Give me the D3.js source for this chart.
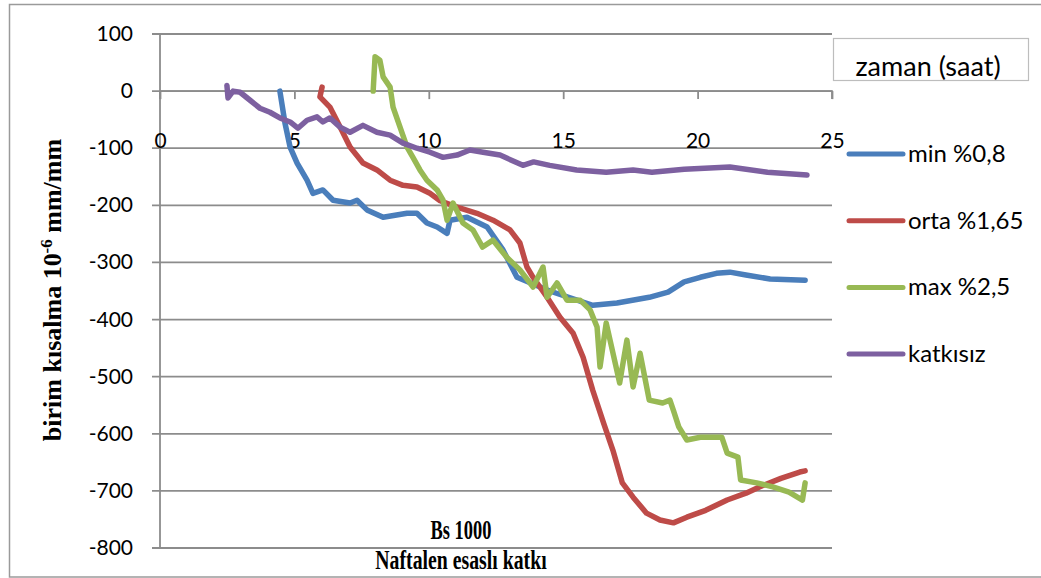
<!DOCTYPE html>
<html>
<head>
<meta charset="utf-8">
<script src="https://cdn.jsdelivr.net/npm/d3@7"></script>
<style>
  body { margin: 0; background: #fff; }
  svg { display: block; }
</style>
</head>
<body>
<div id="chart"></div>
<script>
// data: [time (saat), shrinkage]
var minSeries = [[4.46,0],[4.65,-56],[4.84,-98],[5.10,-126],[5.47,-156],[5.69,-179],[6.06,-173],[6.44,-191],[7.07,-196],[7.33,-191],[7.70,-208],[8.30,-221],[9.19,-214],[9.56,-214],[9.93,-231],[10.31,-238],[10.68,-249],[10.79,-226],[11.42,-221],[12.17,-238],[12.76,-278],[13.28,-326],[14.5,-350],[16.1,-375],[17.0,-371],[18.2,-361],[18.9,-352],[19.5,-334],[20.1,-326],[20.7,-319],[21.2,-317],[21.8,-322],[22.7,-329],[24.0,-331]];

var ortaSeries = [[6.03,7],[5.95,-10],[6.32,-28],[6.70,-63],[7.07,-98],[7.55,-126],[8.07,-138],[8.56,-156],[9.04,-165],[9.56,-168],[10.04,-179],[10.42,-192],[11.05,-203],[11.79,-214],[12.39,-226],[13.02,-243],[13.39,-266],[13.65,-308],[13.88,-326],[14.4,-361],[14.88,-396],[15.37,-424],[15.74,-466],[16.1,-524],[16.5,-581],[16.85,-629],[17.2,-686],[17.6,-711],[18.1,-739],[18.6,-751],[19.1,-756],[19.6,-746],[20.3,-734],[21.1,-716],[21.8,-704],[22.3,-693],[23.1,-678],[23.8,-667],[24.0,-665]];

var maxSeries = [[7.93,0],[8.0,60],[8.18,54],[8.3,25],[8.56,7],[8.67,-28],[8.93,-63],[9.19,-98],[9.41,-116],[9.67,-138],[9.93,-156],[10.31,-173],[10.53,-191],[10.68,-226],[10.9,-196],[11.27,-231],[11.64,-243],[12.0,-273],[12.39,-261],[12.9,-291],[13.39,-313],[13.88,-343],[14.25,-308],[14.4,-361],[14.77,-336],[15.14,-366],[15.63,-366],[16.0,-383],[16.26,-413],[16.37,-483],[16.6,-406],[17.1,-511],[17.37,-436],[17.6,-518],[17.86,-459],[18.2,-541],[18.7,-546],[18.97,-541],[19.1,-559],[19.3,-588],[19.6,-611],[20.1,-606],[20.9,-606],[21.1,-634],[21.5,-641],[21.6,-681],[22.2,-686],[22.8,-693],[23.4,-702],[23.9,-716],[24.0,-686]];

var katkisizSeries = [[2.49,10],[2.53,-12],[2.72,0],[2.98,-2],[3.35,-16],[3.72,-30],[4.09,-37],[4.46,-47],[4.84,-54],[5.13,-65],[5.47,-51],[5.84,-45],[6.06,-54],[6.32,-47],[6.7,-63],[7.07,-72],[7.55,-60],[8.07,-72],[8.56,-77],[9.04,-91],[9.56,-100],[10.04,-107],[10.53,-116],[11.05,-112],[11.53,-103],[12.02,-107],[12.65,-112],[13.5,-130],[13.9,-124],[14.5,-130],[15.5,-138],[16.6,-142],[17.6,-138],[18.3,-142],[19.5,-137],[21.2,-133],[22.6,-142],[24.07,-147]];

var seriesNames = ["min %0,8", "orta %1,65", "max %2,5", "katkısız"];
var seriesColors = ["#4a7ebb", "#be4b48", "#98b954", "#7d60a0"];
var xTicks = [0, 5, 10, 15, 20, 25];
var yTicks = [100, 0, -100, -200, -300, -400, -500, -600, -700, -800];

var allSeries = [minSeries, ortaSeries, maxSeries, katkisizSeries];

var width = 1041, height = 578;
var plot = {left: 160, right: 832, top: 34, bottom: 548};
var sans = "Lato, 'Open Sans', sans-serif";
var serif = "'Liberation Serif', 'Times New Roman', serif";

var svg = d3.select("#chart").append("svg")
  .attr("width", width)
  .attr("height", height);

// outer border
svg.append("rect")
  .attr("x", 9.5).attr("y", 4.5)
  .attr("width", 1040).attr("height", 572.5)
  .attr("fill", "none")
  .attr("stroke", "#9a9a9a")
  .attr("stroke-width", 1.5);

var x = d3.scaleLinear().domain([0, 25]).range([plot.left, plot.right]);
var y = d3.scaleLinear().domain([-800, 100]).range([plot.bottom, plot.top]);

// gridlines
svg.append("g").selectAll("line")
  .data(yTicks)
  .enter().append("line")
  .attr("x1", plot.left - 8)
  .attr("x2", plot.right)
  .attr("y1", function(d) { return y(d); })
  .attr("y2", function(d) { return y(d); })
  .attr("stroke", "#8c8c8c")
  .attr("stroke-width", 1.8);

// y axis line
svg.append("line")
  .attr("x1", plot.left).attr("x2", plot.left)
  .attr("y1", plot.top).attr("y2", plot.bottom)
  .attr("stroke", "#8c8c8c").attr("stroke-width", 1.8);

// y tick labels
svg.append("g").selectAll("text")
  .data(yTicks)
  .enter().append("text")
  .attr("x", 133)
  .attr("y", function(d) { return y(d) + 7; })
  .attr("text-anchor", "end")
  .style("font-family", sans)
  .style("font-size", "21px")
  .attr("fill", "#000")
  .text(function(d) { return d; });

// x axis at y = 0, ticks pointing down
var xAxis = svg.append("g")
  .attr("transform", "translate(0," + y(0) + ")")
  .call(d3.axisBottom(x).tickValues(xTicks).tickSize(8).tickPadding(34));
xAxis.select(".domain").attr("stroke", "#8c8c8c").attr("stroke-width", 1.8)
  .attr("d", "M" + plot.left + ",8V0H" + plot.right + "V8");
xAxis.selectAll(".tick line").attr("stroke", "#8c8c8c").attr("stroke-width", 1.8);
xAxis.selectAll(".tick text")
  .style("font-family", sans)
  .style("font-size", "21px")
  .attr("fill", "#000");

// the lines
var line = d3.line()
  .x(function(d) { return x(d[0]); })
  .y(function(d) { return y(d[1]); });

svg.append("g").selectAll("path")
  .data(allSeries)
  .enter().append("path")
  .attr("d", line)
  .attr("fill", "none")
  .attr("stroke", function(d, i) { return seriesColors[i]; })
  .attr("stroke-width", 5.5)
  .attr("stroke-linejoin", "round")
  .attr("stroke-linecap", "round");

// x axis title box
svg.append("rect")
  .attr("x", 833.5).attr("y", 38.5)
  .attr("width", 195).attr("height", 42)
  .attr("fill", "#fff")
  .attr("stroke", "#bdbdbd")
  .attr("stroke-width", 1.2);
svg.append("text")
  .attr("x", 928).attr("y", 76)
  .attr("text-anchor", "middle")
  .style("font-family", sans)
  .style("font-size", "27px")
  .text("zaman (saat)");

// legend
var legend = svg.append("g").selectAll("g")
  .data(seriesNames)
  .enter().append("g")
  .attr("transform", function(d, i) { return "translate(849," + (154 + i * 66.7) + ")"; });
legend.append("line")
  .attr("x1", 0).attr("x2", 54)
  .attr("stroke", function(d, i) { return seriesColors[i]; })
  .attr("stroke-width", 5)
  .attr("stroke-linecap", "round");
legend.append("text")
  .attr("x", 59).attr("y", 8)
  .style("font-family", sans)
  .style("font-size", "24px")
  .text(function(d) { return d; });

// y axis title
var yTitle = svg.append("text")
  .attr("transform", "translate(61,290) rotate(-90)")
  .attr("text-anchor", "middle")
  .style("font-family", serif)
  .style("font-weight", "bold")
  .style("font-size", "26px");
yTitle.append("tspan").text("birim kısalma 10");
yTitle.append("tspan").attr("baseline-shift", "super").style("font-size", "17px").text("-6");
yTitle.append("tspan").text(" mm/mm");

// bottom titles (tall and narrow like the original)
svg.append("text")
  .attr("transform", "translate(461,539) scale(0.8,1.15)")
  .attr("text-anchor", "middle")
  .style("font-family", serif)
  .style("font-weight", "bold")
  .style("font-size", "23px")
  .text("Bs 1000");
svg.append("text")
  .attr("transform", "translate(461,569) scale(0.86,1.15)")
  .attr("text-anchor", "middle")
  .style("font-family", serif)
  .style("font-weight", "bold")
  .style("font-size", "23px")
  .text("Naftalen esaslı katkı");
</script>
</body>
</html>
